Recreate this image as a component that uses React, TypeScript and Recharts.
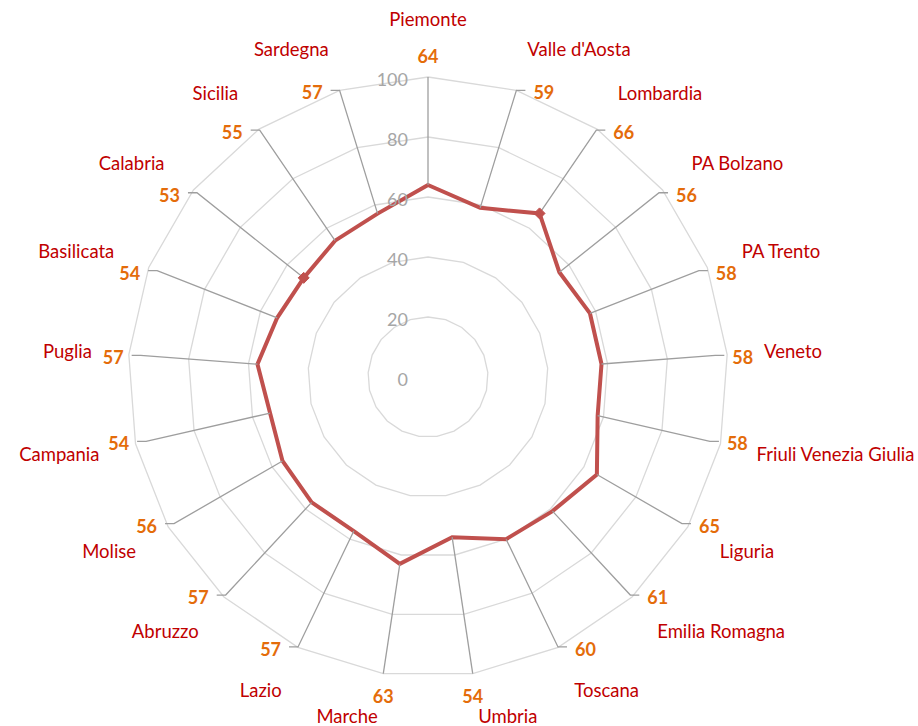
import React from 'react';
import { RadarChart, Radar, PolarGrid, PolarAngleAxis, PolarRadiusAxis } from 'recharts';

const regions = [
  'Piemonte', "Valle d'Aosta", 'Lombardia', 'PA Bolzano', 'PA Trento', 'Veneto',
  'Friuli Venezia Giulia', 'Liguria', 'Emilia Romagna', 'Toscana', 'Umbria', 'Marche',
  'Lazio', 'Abruzzo', 'Molise', 'Campania', 'Puglia', 'Basilicata', 'Calabria', 'Sicilia', 'Sardegna',
];
const rates = [64, 59, 66, 56, 58, 58, 58, 65, 61, 60, 54, 63, 57, 57, 56, 54, 57, 54, 53, 55, 57];
const radiusTicks = [0, 20, 40, 60, 80, 100];
const markedRegions = ['Lombardia', 'Calabria'];

const data = regions.map((region, i) => ({ region, value: rates[i] }));

const W = 918;
const H = 726;
const CX = 428;
const CY = 377;
const R = 300;
const RAD = Math.PI / 180;
const FONT = 'Lato, "Noto Sans", sans-serif';
const LINE = '#C0504D';
const CAT = '#C00000';
const NUM = '#E46C0A';
const LEADER = '#9e9e9e';

function angleOf(payload: any, index: number) {
  if (payload && typeof payload.angle === 'number') return payload.angle;
  return 90 - (index * 360) / regions.length;
}

function CategoryTick(props: any) {
  const { payload, index } = props;
  const angle = payload.coordinate;
  const c = Math.cos(angle * RAD);
  const s = Math.sin(angle * RAD);
  const r = R + 37;
  const ax = CX + r * c;
  const ay = CY - r * s;
  const anchor = c > 0.05 ? 'start' : c < -0.05 ? 'end' : 'middle';
  const k = Math.max(-1, Math.min(1, s / 0.9));
  let dy = k > 0 ? -6 * k : -9 * k;
  if (anchor === 'middle' && s > 0) dy -= 15;
  const y = Math.min(ay + dy, H - 10);
  return (
    <text
      key={`cat-${index}`}
      x={ax}
      y={y}
      textAnchor={anchor}
      dominantBaseline="central"
      fill={CAT}
      fontSize={18.5}
      fontFamily={FONT}
    >
      {payload.value}
    </text>
  );
}

function RadiusTick(props: any) {
  const { x, y, payload, index } = props;
  return (
    <text
      key={`rt-${index}`}
      x={x - 20}
      y={y + 2}
      textAnchor="end"
      dominantBaseline="central"
      fill="#a6a6a6"
      fontSize={18}
      fontFamily={FONT}
    >
      {payload.value}
    </text>
  );
}

function LeaderLabel(props: any) {
  const { cx: px, cy: py, index, payload } = props;
  const angle = angleOf(payload, index);
  const c = Math.cos(angle * RAD);
  const s = Math.sin(angle * RAD);
  const lr = R - 12 * Math.pow(Math.abs(c), 4);
  const ex = CX + lr * c;
  const ey = CY - lr * s;
  const value = payload && payload.value != null ? payload.value : rates[index];
  if (Math.abs(c) < 0.2) {
    const ly = s > 0 ? ey - 21 : ey + 22;
    return (
      <g key={`ld-${index}`}>
        <path d={`M${px},${py}L${ex},${ey}`} stroke={LEADER} strokeWidth={1.3} fill="none" />
        <text x={ex} y={ly} textAnchor="middle" dominantBaseline="central" fill={NUM}
          fontSize={18} fontWeight="bold" fontFamily={FONT}>{value}</text>
      </g>
    );
  }
  const dir = c > 0 ? 1 : -1;
  return (
    <g key={`ld-${index}`}>
      <path d={`M${px},${py}L${ex},${ey}L${ex + 9 * dir},${ey}`} stroke={LEADER} strokeWidth={1.3} fill="none" />
      <text x={ex + 17 * dir} y={ey + 2} textAnchor={dir > 0 ? 'start' : 'end'} dominantBaseline="central"
        fill={NUM} fontSize={18} fontWeight="bold" fontFamily={FONT}>{value}</text>
    </g>
  );
}

function Marker(props: any) {
  const { cx: px, cy: py, index } = props;
  if (!markedRegions.includes(regions[index])) return <g key={`mk-${index}`} />;
  const d = 5.5;
  return (
    <path
      key={`mk-${index}`}
      d={`M${px},${py - d}L${px + d},${py}L${px},${py + d}L${px - d},${py}Z`}
      fill={LINE}
      stroke={LINE}
    />
  );
}

export default function App() {
  return (
    <div style={{ position: 'absolute', left: 0, top: 0, width: W, height: H, background: '#fff' }}>
      <RadarChart width={W} height={H} data={data} cx={CX} cy={CY} outerRadius={R}
        margin={{ top: 0, right: 0, bottom: 0, left: 0 }}>
        <PolarGrid gridType="polygon" radialLines={false} stroke="#d9d9d9" strokeWidth={1.3} />
        <PolarAngleAxis dataKey="region" axisLine={false} tickLine={false} tick={CategoryTick} />
        <PolarRadiusAxis angle={90} domain={[0, 100]} ticks={radiusTicks as any} tickCount={radiusTicks.length}
          axisLine={false} tickLine={false} tick={RadiusTick} />
        <Radar dataKey="value" stroke="none" fill="none" dot={LeaderLabel} isAnimationActive={false} />
        <Radar dataKey="value" stroke={LINE} strokeWidth={4} fill="none" fillOpacity={0}
          dot={Marker} isAnimationActive={false} />
      </RadarChart>
    </div>
  );
}
